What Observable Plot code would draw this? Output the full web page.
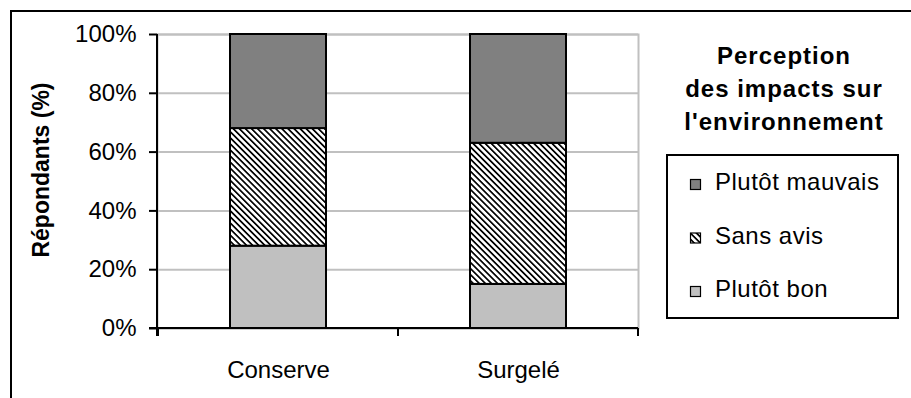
<!DOCTYPE html>
<html>
<head>
<meta charset="utf-8">
<script src="https://cdn.jsdelivr.net/npm/d3@7"></script>
<script src="https://cdn.jsdelivr.net/npm/@observablehq/plot@0.6"></script>
<style>
  html, body { margin: 0; padding: 0; background: #fff; }
  #chart { position: relative; width: 911px; height: 398px; overflow: hidden; }
</style>
</head>
<body>
<div id="chart"></div>
<script>
// Perception of environmental impact, by type of product (% of respondents)
const categories = ["Conserve", "Surgelé"];
const series = ["Plutôt bon", "Sans avis", "Plutôt mauvais"];
const plutotBon = [28, 15];
const sansAvis = [40, 48];
const plutotMauvais = [32, 37];
const yTicks = [0, 20, 40, 60, 80, 100];
const yTitle = "Répondants (%)";
const legendTitle = ["Perception", "des impacts sur", "l'environnement"];

const fills = ["#c0c0c0", "url(#hatch)", "#808080"];
const values = [plutotBon, sansAvis, plutotMauvais];
const rows = series.flatMap((s, i) =>
  categories.map((c, j) => ({category: c, series: s, value: values[i][j]}))
);

const font = "'Liberation Sans', Arial, sans-serif";
const paddingInner = 0.6;

const chart = Plot.plot({
  width: 911,
  height: 398,
  marginLeft: 157,
  marginRight: 273,
  marginTop: 34,
  marginBottom: 70,
  style: {fontFamily: font, fontSize: "24px", color: "#000", background: "white", overflow: "visible"},
  x: {domain: categories, paddingInner, paddingOuter: 0.3, label: null},
  y: {domain: [0, 100], label: null},
  color: {domain: series, range: fills},
  marks: [
    Plot.gridY(yTicks, {stroke: "#c0c0c0", strokeOpacity: 1, strokeWidth: 2}),
    Plot.frame({stroke: "#c0c0c0", strokeWidth: 2}),
    Plot.barY(rows, {x: "category", y: "value", fill: "series", stroke: "#000", strokeWidth: 2}),
    Plot.axisY(yTicks, {tickFormat: d => d + "%", tickSize: 8, tickPadding: 13, strokeWidth: 2, fontSize: 24, label: null}),
    Plot.axisX({tickSize: 0, tickPadding: 32, fontSize: 24, label: null})
  ]
});

const svg = d3.select(chart);

// diagonal hatch used for "Sans avis"
const pattern = svg.insert("defs", ":first-child")
  .append("pattern")
  .attr("id", "hatch")
  .attr("patternUnits", "userSpaceOnUse")
  .attr("width", 4.3)
  .attr("height", 10)
  .attr("patternTransform", "rotate(-45)");
pattern.append("rect").attr("width", 4.3).attr("height", 10).attr("fill", "#fff");
pattern.append("rect").attr("width", 1.7).attr("height", 10).attr("fill", "#000");

const xs = chart.scale("x");
const ys = chart.scale("y");
const y0 = ys.apply(0), y100 = ys.apply(100);
const left = xs.range[0], right = xs.range[1];
const gap = xs.step - xs.bandwidth;
const bounds = categories.map(c => xs.apply(c) - gap / 2).concat([xs.apply(categories[categories.length - 1]) + xs.bandwidth + gap / 2]);

const axes = svg.append("g").attr("stroke", "#000").attr("stroke-width", 2);
axes.append("line").attr("x1", left).attr("x2", left).attr("y1", y100).attr("y2", y0 + 8);
axes.append("line").attr("x1", left - 8).attr("x2", right).attr("y1", y0).attr("y2", y0);
axes.selectAll(".bt").data(bounds).join("line")
  .attr("x1", d => d).attr("x2", d => d).attr("y1", y0).attr("y2", y0 + 8);

// y-axis title
svg.append("text")
  .attr("transform", `translate(41,${(y0 + y100) / 2 - 11}) rotate(-90)`)
  .attr("text-anchor", "middle")
  .attr("dy", "0.35em")
  .attr("font-family", font)
  .attr("font-size", 23)
  .attr("font-weight", "bold")
  .attr("fill", "#000")
  .text(yTitle);

// legend title
const lt = svg.append("text")
  .attr("text-anchor", "middle")
  .attr("font-family", font)
  .attr("font-size", 24)
  .attr("font-weight", "bold")
  .attr("letter-spacing", 1)
  .attr("fill", "#000");
legendTitle.forEach((t, i) => {
  lt.append("tspan").attr("x", 784).attr("y", 64 + i * 33).text(t);
});

// legend box
const lg = svg.append("g").attr("text-anchor", "start");
lg.append("rect")
  .attr("x", 667).attr("y", 155).attr("width", 231).attr("height", 163)
  .attr("fill", "#fff").attr("stroke", "#000").attr("stroke-width", 2);
const legendItems = series.map((s, i) => ({name: s, fill: fills[i]})).reverse();
legendItems.forEach((d, i) => {
  const base = 190 + i * 53.5;
  lg.append("rect")
    .attr("x", 690.5).attr("y", base - 10.5).attr("width", 10).attr("height", 10)
    .attr("fill", d.fill).attr("stroke", "#000").attr("stroke-width", 1.2);
  lg.append("text")
    .attr("x", 715).attr("y", base)
    .attr("text-anchor", "start")
    .attr("letter-spacing", 0.5)
    .attr("font-family", font).attr("font-size", 24).attr("fill", "#000")
    .text(d.name);
});

// outer chart border
svg.append("rect")
  .attr("x", 11).attr("y", 11).attr("width", 940).attr("height", 420)
  .attr("fill", "none").attr("stroke", "#000").attr("stroke-width", 2);

document.getElementById("chart").append(chart);
</script>
</body>
</html>
